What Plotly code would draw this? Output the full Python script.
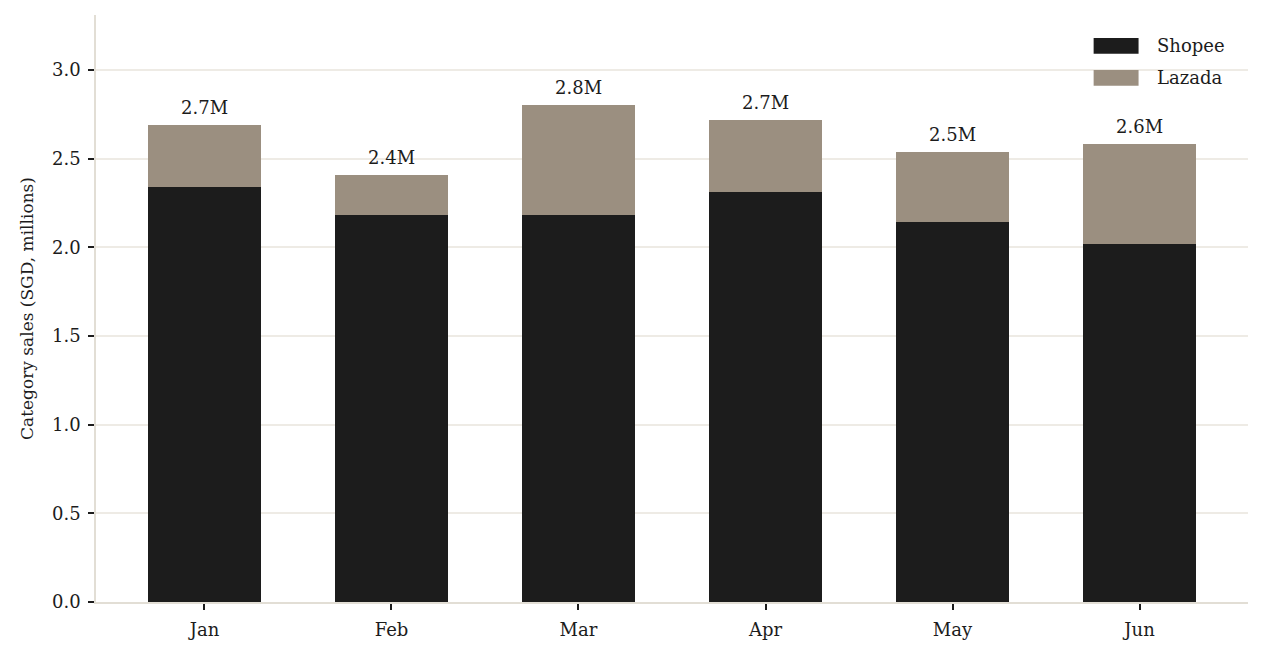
import plotly.graph_objects as go

months = ["Jan", "Feb", "Mar", "Apr", "May", "Jun"]
shopee = [2.34, 2.18, 2.18, 2.31, 2.14, 2.02]
lazada = [0.35, 0.23, 0.62, 0.41, 0.40, 0.56]
series_names = ["Shopee", "Lazada"]
series_colors = ["#1c1c1c", "#9b8f80"]

totals = [s + l for s, l in zip(shopee, lazada)]
total_labels = [f"{t:.1f}M" for t in totals]

FONT = "Georgia, 'DejaVu Serif', serif"
INK = "#1c1c1c"
AXIS = "#e2ded5"
GRID = "#eeebe5"

fig = go.Figure()
for name, vals, color in zip(series_names, [shopee, lazada], series_colors):
    fig.add_trace(go.Bar(x=months, y=vals, name=name, showlegend=False,
                         marker=dict(color=color, line=dict(width=0))))

# total labels above each stack
for m, t, lab in zip(months, totals, total_labels):
    fig.add_annotation(x=m, y=t, text=lab, showarrow=False,
                       yanchor="bottom", yshift=5,
                       font=dict(size=18, color=INK, family=FONT))

# legend drawn by hand so the swatches are wide rectangles like the original
for i, (name, color) in enumerate(zip(series_names, series_colors)):
    y_top = 0.961 - i * 0.0545
    fig.add_shape(type="rect", xref="paper", yref="paper",
                  x0=0.866, x1=0.905, y0=y_top - 0.027, y1=y_top,
                  fillcolor=color, line=dict(width=0))
    fig.add_annotation(xref="paper", yref="paper", x=0.919, y=y_top - 0.0135,
                       text=name, showarrow=False, xanchor="left", yanchor="middle",
                       font=dict(size=18, color=INK, family=FONT))

# page body has an 8px margin, so the figure is sized to fit the window
fig.update_layout(
    barmode="stack",
    bargap=0.4,
    width=1256,
    height=648,
    paper_bgcolor="white",
    plot_bgcolor="white",
    font=dict(family=FONT, size=18, color=INK),
    margin=dict(l=88, r=16, t=7, b=54),
)
fig.update_xaxes(
    range=[-0.58, 5.58],
    showline=True, linecolor=AXIS, linewidth=1.5,
    ticks="outside", ticklen=6, tickcolor=INK, tickwidth=1.5,
    ticklabelstandoff=5,
    showgrid=False, automargin=False,
)
fig.update_yaxes(
    range=[0, 3.31],
    dtick=0.5, tickformat=".1f",
    showline=True, linecolor=AXIS, linewidth=1.5,
    ticks="outside", ticklen=6, tickcolor=INK, tickwidth=1.5,
    ticklabelstandoff=4,
    gridcolor=GRID, gridwidth=1.5, zeroline=False, automargin=False,
    title=dict(text="Category sales (SGD, millions)", font=dict(size=17), standoff=14),
)

fig.write_html("out.html")
